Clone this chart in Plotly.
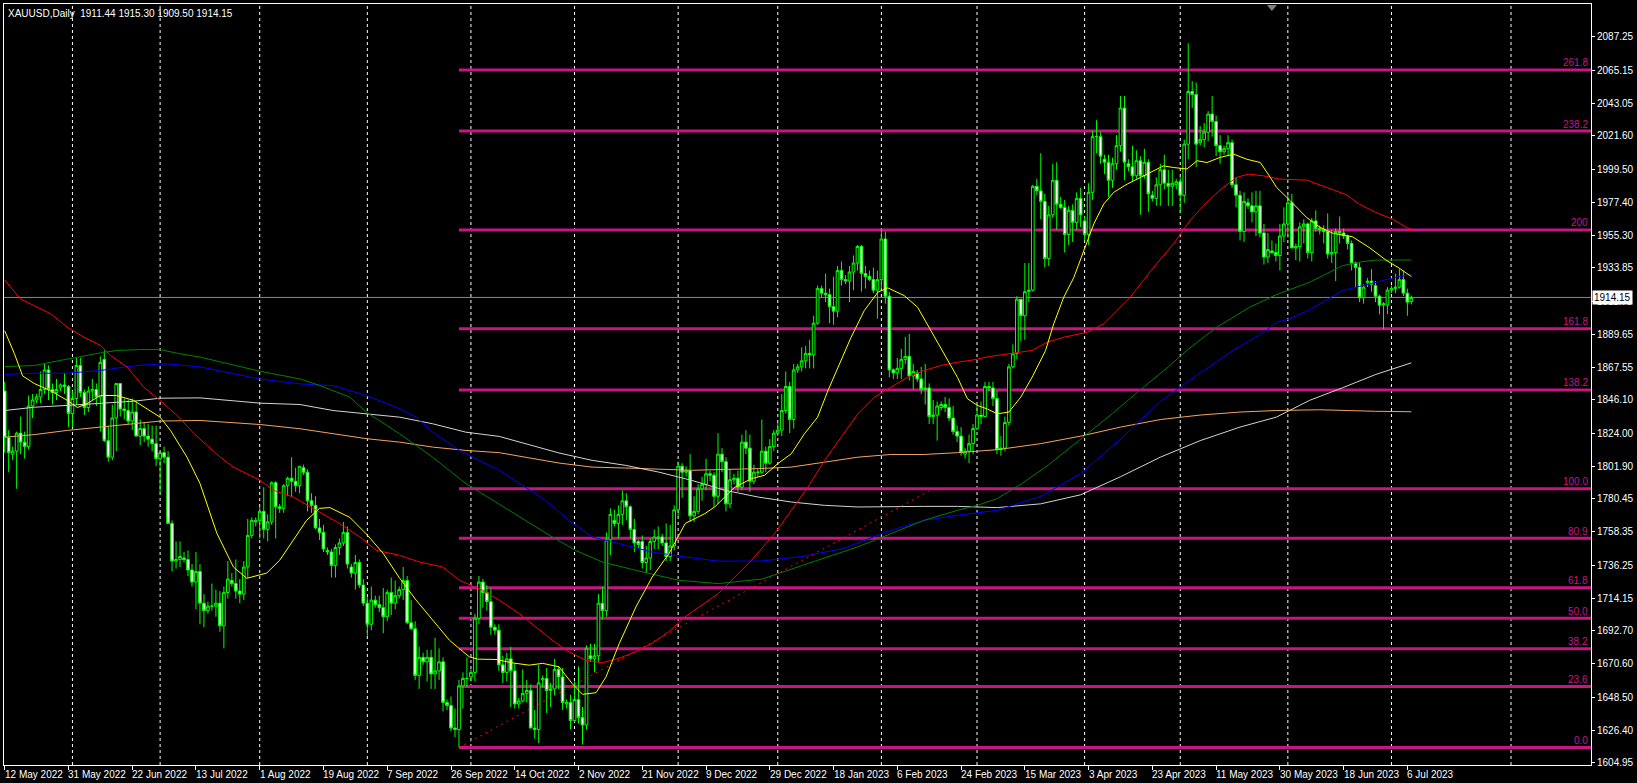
import plotly.graph_objects as go

# ---------------- DATA ----------------
opens = [1852,1821,1810,1812,1824,1818,1815,1842,1846,1848,1853,1866,1853,1851,1854,1856,1855,
1837,1847,1869,1851,1841,1852,1853,1848,1873,1819,1808,1834,1857,1840,1839,1832,1838,1822,1827,1822,1820,1817,
1807,1811,1808,1764,1739,1740,1741,1740,1733,1725,1732,1711,1706,1709,1709,1711,1696,1718,1726,1724,1719,1717,1735,1756,1765,
1766,1772,1760,1765,1791,1775,1774,1789,1794,1792,1789,1801,1798,1779,1776,1761,1758,1746,1745,1736,1748,1751,1758,1735,1731,1738,1723,
1711,1697,1713,1710,1708,1702,1718,1711,1716,1720,1726,1698,1694,1663,1675,1672,1675,1664,1666,1672,1645,1643,1628,1627,1656,1661,
1662,1665,1701,1725,1718,1712,1695,1693,1670,1665,1674,1666,1644,1646,1651,1653,1628,1627,1660,1661,1653,1654,1667,1662,1644,1645,
1633,1647,1635,1630,1676,1674,1676,1711,1706,1753,1766,1764,1770,1779,1775,1760,1752,1752,1738,1741,1752,1754,1755,1751,1742,1749,
1773,1802,1798,1799,1769,1772,1787,1790,1797,1796,1782,1810,1805,1777,1793,1794,1788,1818,1814,1792,1798,1798,1812,1804,1815,
1824,1826,1839,1855,1833,1866,1868,1872,1877,1876,1897,1920,1917,1916,1908,1905,1932,1926,1925,1931,1937,1948,1930,1928,1926,1919,
1926,1953,1915,1866,1864,1867,1873,1875,1862,1864,1860,1853,1854,1835,1836,1841,1843,1841,1834,1825,1822,1810,1812,1817,
1827,1836,1835,1855,1854,1847,1813,1814,1831,1868,1877,1913,1902,1918,1919,1988,1985,1978,1940,1969,1992,1976,1974,1956,1972,1964,1980,
1965,1956,1984,2021,2021,2006,2004,1992,2003,2015,2040,2003,2001,1995,2005,1995,2004,1982,1980,1989,1999,1990,1988,1989,
1991,1982,2016,2051,2049,2017,2019,2024,2036,2031,2015,2011,2013,2017,1989,1982,1958,1977,1975,1971,1975,1957,1941,1945,1944,1942,1955,
1963,1977,1947,1948,1961,1963,1944,1965,1960,1959,1958,1943,1944,1958,1957,1955,1950,1937,1934,1914,1924,1925,1922,1915,1909,1909,
1919,1920,1921,1926,1917,1911.44]
highs = [1858,1826,1815,1825,1835,1825,1849,1850,1850,1865,1870,1869,1857,1860,1857,1864,1856,
1852,1874,1874,1853,1855,1860,1857,1875,1879,1829,1843,1857,1857,1847,1846,1847,1845,1833,1831,1830,1829,1829,
1812,1815,1812,1766,1752,1752,1745,1746,1737,1745,1737,1717,1712,1724,1720,1719,1722,1739,1731,1740,1727,1739,1767,1768,1768,
1775,1788,1770,1792,1792,1777,1790,1795,1808,1801,1802,1803,1800,1784,1782,1767,1763,1748,1747,1750,1754,1765,1762,1737,1743,1740,1727,
1715,1722,1716,1716,1721,1720,1728,1726,1722,1735,1729,1713,1699,1682,1678,1680,1680,1688,1681,1675,1647,1649,1641,1660,1665,1675,
1667,1704,1729,1727,1723,1721,1697,1697,1676,1678,1682,1671,1648,1667,1660,1657,1640,1670,1663,1668,1658,1674,1669,1668,1647,1650,
1659,1669,1642,1683,1684,1684,1717,1722,1758,1774,1773,1776,1786,1784,1776,1767,1753,1756,1749,1754,1760,1762,1757,1764,1763,1776,
1805,1804,1802,1810,1782,1790,1795,1807,1799,1798,1824,1814,1808,1800,1797,1799,1823,1826,1823,1803,1800,1833,1815,1820,1826,
1831,1850,1865,1858,1870,1870,1881,1882,1886,1902,1922,1922,1930,1920,1928,1935,1938,1929,1935,1942,1949,1949,1935,1932,1934,1932,
1960,1958,1918,1867,1874,1880,1888,1890,1870,1866,1868,1870,1857,1846,1845,1845,1848,1847,1842,1829,1828,1814,1823,1830,
1843,1845,1858,1858,1858,1852,1822,1835,1870,1883,1915,1913,1937,1937,1989,1993,2010,1983,1975,2003,2004,1981,1979,1975,1976,1984,1987,
1968,1990,2025,2032,2024,2009,2009,2007,2022,2048,2048,2006,2015,2012,2008,2013,2006,1985,1994,2003,2009,1999,1999,1993,
1994,2019,2083,2058,2057,2028,2030,2038,2048,2035,2022,2015,2022,2019,1994,1985,1984,1980,1984,1985,1985,1963,1957,1952,1950,1963,
1974,1983,1983,1950,1964,1966,1964,1967,1972,1962,1962,1970,1959,1960,1968,1960,1956,1952,1938,1937,1923,1927,1933,1925,1916,1911,
1921,1922,1930,1933,1932,1920,1915.30]
lows = [1811,1798,1806,1787,1810,1807,1813,1834,1844,1844,1850,1846,1843,1846,1852,1850,1828,
1828,1843,1848,1836,1838,1846,1842,1825,1818,1805,1806,1812,1835,1833,1830,1826,1822,1816,1818,1815,1812,1802,
1784,1804,1764,1732,1734,1735,1738,1729,1722,1707,1697,1695,1704,1706,1702,1692,1681,1714,1722,1714,1711,1713,1728,1754,1762,
1754,1754,1752,1763,1754,1771,1771,1782,1782,1785,1784,1796,1772,1771,1760,1753,1745,1743,1728,1728,1743,1749,1734,1728,1720,1721,1709,
1689,1693,1708,1705,1691,1699,1703,1707,1714,1713,1697,1693,1660,1654,1670,1659,1654,1654,1660,1639,1640,1626,1622,1615,1641,1655,
1659,1659,1697,1708,1706,1690,1690,1666,1658,1659,1642,1641,1641,1645,1645,1628,1621,1618,1655,1638,1642,1650,1654,1640,1641,1627,
1632,1631,1617,1627,1672,1665,1672,1700,1702,1743,1762,1754,1763,1766,1754,1745,1747,1734,1731,1733,1747,1747,1749,1739,1739,1746,
1768,1781,1795,1765,1765,1770,1779,1786,1792,1775,1777,1798,1772,1774,1790,1785,1786,1810,1785,1790,1795,1797,1798,1803,1812,
1822,1822,1837,1824,1827,1864,1865,1867,1867,1867,1896,1914,1911,1897,1896,1901,1922,1923,1911,1919,1932,1918,1920,1925,1917,1900,
1920,1910,1861,1860,1860,1860,1870,1859,1853,1858,1850,1843,1830,1830,1819,1839,1838,1832,1823,1818,1809,1807,1804,1810,
1826,1830,1835,1852,1842,1810,1809,1812,1829,1867,1873,1885,1886,1911,1918,1982,1966,1934,1935,1967,1959,1973,1944,1949,1951,1959,1961,
1952,1949,1979,2010,2003,1996,1981,1987,1999,2011,1992,1998,1991,1993,1969,1993,1971,1978,1975,1975,1986,1975,1975,1986,
1970,1977,2006,2040,2001,2015,2014,2018,2021,2008,2003,2009,2008,1987,1974,1952,1951,1973,1964,1955,1954,1936,1937,1943,1938,1932,
1951,1954,1947,1939,1938,1950,1940,1938,1958,1956,1950,1940,1937,1925,1950,1953,1946,1932,1921,1911,1910,1921,1918,1911,1903,1893,
1903,1917,1917,1920,1915,1902,1909.50]
closes = [1821,1811,1812,1824,1818,1815,1842,1846,1848,1853,1866,1853,1851,1853,1856,1855,1837,
1847,1869,1851,1841,1852,1853,1848,1871,1819,1808,1834,1857,1840,1839,1832,1838,1822,1827,1822,1820,1817,1807,
1811,1808,1764,1739,1740,1742,1740,1733,1725,1732,1711,1706,1709,1709,1711,1696,1718,1727,1724,1719,1717,1735,1756,1766,1766,
1772,1760,1765,1791,1775,1774,1789,1794,1792,1789,1802,1798,1779,1776,1761,1758,1747,1745,1736,1748,1751,1758,1737,1731,1738,1723,1711,
1697,1713,1710,1708,1702,1718,1711,1716,1720,1726,1698,1694,1663,1675,1672,1675,1664,1666,1672,1645,1643,1628,1627,1656,1661,1661,
1665,1701,1725,1718,1712,1695,1693,1670,1665,1674,1666,1644,1646,1651,1653,1628,1627,1658,1661,1653,1654,1667,1662,1645,1645,1633,
1647,1635,1630,1681,1674,1676,1711,1706,1753,1770,1764,1770,1779,1775,1760,1751,1750,1738,1741,1752,1755,1755,1751,1742,1749,1773,
1802,1798,1799,1769,1772,1787,1790,1797,1796,1782,1810,1805,1777,1793,1794,1788,1818,1814,1792,1798,1798,1812,1804,1815,1824,
1826,1839,1855,1833,1866,1868,1872,1877,1876,1897,1920,1917,1916,1908,1905,1932,1926,1925,1931,1937,1948,1930,1928,1926,1919,1926,
1953,1915,1866,1864,1867,1873,1875,1862,1865,1860,1853,1854,1835,1836,1842,1843,1841,1834,1825,1822,1811,1812,1817,1827,
1836,1835,1855,1854,1847,1813,1814,1831,1868,1877,1913,1902,1918,1919,1988,1985,1978,1940,1969,1992,1976,1974,1956,1972,1964,1980,1969,
1956,1984,2021,2021,2008,2004,1992,2003,2015,2040,2004,2001,1995,2005,1995,2004,1983,1980,1989,1999,1990,1988,1990,1991,
1982,2016,2051,2049,2016,2019,2024,2036,2031,2015,2011,2013,2017,1989,1982,1958,1978,1975,1971,1975,1957,1941,1946,1944,1942,1955,
1963,1977,1947,1948,1961,1963,1944,1965,1960,1959,1958,1943,1944,1958,1957,1955,1950,1937,1934,1914,1921,1925,1923,1915,1909,1910,1919,
1920,1921,1926,1917,1911,1914.15]

date_labels = ["12 May 2022", "31 May 2022", "22 Jun 2022", "13 Jul 2022", "1 Aug 2022", "19 Aug 2022",
               "7 Sep 2022", "26 Sep 2022", "14 Oct 2022", "2 Nov 2022", "21 Nov 2022", "9 Dec 2022",
               "29 Dec 2022", "18 Jan 2023", "6 Feb 2023", "24 Feb 2023", "15 Mar 2023", "3 Apr 2023",
               "23 Apr 2023", "11 May 2023", "30 May 2023", "18 Jun 2023", "6 Jul 2023"]
date_label_bars = [0, 16, 32, 48, 64, 80, 96, 112, 128, 144, 160, 176, 192, 208, 224, 240, 256, 272,
                   288, 304, 320, 336, 352]
month_grid_bars = [17, 39, 64, 91, 117, 143, 169, 194, 220, 244, 271, 295, 322, 348, 378]

price_ticks = [2087.25, 2065.15, 2043.05, 2021.60, 1999.50, 1977.40, 1955.30, 1933.85, 1911.75,
               1889.65, 1867.55, 1846.10, 1824.00, 1801.90, 1780.45, 1758.35, 1736.25, 1714.15,
               1692.70, 1670.60, 1648.50, 1626.40, 1604.95]

fib_levels = [0.0, 23.6, 38.2, 50.0, 61.8, 80.9, 100.0, 138.2, 161.8, 200.0, 238.2, 261.8]
fib_texts = ["0.0", "23.6", "38.2", "50.0", "61.8", "80.9", "100.0", "138.2", "161.8", "200", "238.2", "261.8"]
fib_low_bar, fib_low = 114, 1615.0
fib_high_bar, fib_high = 233, 1787.0

last_price = 1914.15
title_text = "XAUUSD,Daily\u00a0\u00a01911.44 1915.30 1909.50 1914.15"

yellow_x = [0, 2.4, 4.5, 7.4, 11.6, 15.75, 18.25, 20.75, 24, 28, 32.4, 36.6, 39, 41.6, 45.75, 49, 53.25,
            57.4, 60.75, 65.75, 69, 72.4, 75.75, 79, 81.6, 86.6, 90.75, 95, 99, 103.25, 107.4, 111.6, 114,
            116.6, 118.7, 123.3, 127.4, 131.6, 135, 139.1, 142.4, 145, 148.4, 150.9, 154.2, 158.4, 162.5,
            166.7, 170.8, 175.7, 178.2, 183.2, 187.4, 190.7, 194, 197.4, 200.7, 204, 206.6, 209.9, 212.4,
            215.7, 219.1, 221.6, 225.7, 229.1, 232.4, 235.7, 239.1, 241.6, 244.1, 246.6, 249.1, 252, 255,
            258, 261.2, 263.25, 265.75, 268.3, 270.8, 273.3, 275.8, 278.3, 281.7, 286.7, 290.8, 293.3,
            296.7, 299.2, 301.7, 305, 308.4, 311.7, 315.1, 317.6, 319.2, 322.6, 326.7, 330.1, 333.4,
            336.7, 338.2, 342.4, 346.6, 349.9, 352.4, 353]
yellow_y = [1892, 1877, 1862, 1857, 1852, 1845.7, 1841, 1843.7, 1849, 1849, 1845.7, 1839, 1834.6, 1825.8,
            1808, 1790.6, 1757.4, 1735, 1727.5, 1731, 1739.5, 1752.8, 1766, 1774, 1774.5, 1768, 1757, 1744,
            1728, 1713, 1699.7, 1686.4, 1681, 1675.3, 1673.8, 1673.6, 1671.3, 1669.8, 1671, 1668.7, 1657.6,
            1650.4, 1651.5, 1662, 1684, 1708.5, 1728.4, 1744, 1764, 1770.5, 1775, 1788, 1793.7, 1796, 1803.7,
            1810.3, 1823.6, 1834.6, 1852.3, 1872.2, 1887.7, 1905.4, 1917.6, 1920.5, 1915.4, 1907.6, 1892,
            1876.7, 1861, 1846.8, 1842.4, 1840, 1836.8, 1838, 1848, 1862, 1878.9, 1896.6, 1914.2, 1927.5,
            1945.2, 1963, 1976.2, 1984, 1989.5, 1996.1, 2001.6, 2000.5, 1999.5, 2005, 2003.8, 2007.2, 2009.4,
            2006, 2003.8, 1993.9, 1987.2, 1978.4, 1967.3, 1960.7, 1956.7, 1955.2, 1954.5, 1947.4, 1939,
            1933.7, 1928.6, 1928]

red_x = [0, 4, 7.4, 11.6, 15.75, 19.9, 24.1, 26.6, 30.75, 34.9, 39, 43.25, 47.4, 49, 54.1, 57.4, 64.1, 67.4,
         72.4, 78.25, 84.1, 89.1, 93.25, 99.1, 104, 109.9, 114.1, 119.9, 124.1, 129.1, 133.3, 137.4, 141.6,
         145.8, 149.9, 154.1, 158.3, 162.4, 166.6, 170.7, 174.9, 179.1, 187.4, 193.2, 197.4, 201.6, 205.75,
         209.9, 214.1, 218.25, 222.4, 226.6, 230.75, 234.9, 239.1, 243.25, 247.4, 257.8, 261.6, 265.8, 271.6,
         275.8, 282.4, 288.3, 293.3, 297.4, 301.6, 305.75, 309.1, 312.1, 315.8, 320, 326.7, 330.8, 334.1,
         336.7, 339.9, 344.1, 348.3, 352, 353]
red_y = [1925.8, 1913, 1908.7, 1903.2, 1894.3, 1887.7, 1882.2, 1875.5, 1867.8, 1854.5, 1845.7, 1835.7, 1824,
         1820, 1808, 1801.4, 1792.6, 1786, 1781.5, 1772.7, 1763.8, 1755, 1746.1, 1742.8, 1738.4, 1735, 1726.2,
         1719.6, 1713, 1704.1, 1695.3, 1686.4, 1678.6, 1673.1, 1671.3, 1674.3, 1678.6, 1684.2, 1691.9, 1701.9,
         1709.6, 1717.4, 1739.5, 1757.2, 1772.7, 1788.2, 1805.9, 1821.3, 1836.8, 1847.9, 1854.5, 1861.2,
         1865.6, 1868.9, 1871.1, 1872.7, 1875, 1878.9, 1884.4, 1887.7, 1891, 1896.6, 1914.2, 1934.1, 1949.7,
         1965.1, 1977.3, 1987.2, 1993.9, 1996.1, 1995, 1992.8, 1992.1, 1988.4, 1985, 1982.4, 1976.2, 1970.6,
         1966.2, 1960.3, 1959.5]

green_x = [0, 7.4, 11.6, 15.75, 19.9, 24, 28.25, 34, 39, 43.25, 49, 64.1, 74.1, 79.1, 86.6, 90.75, 99.1,
           107.4, 115.75, 123.25, 129.1, 137.4, 143.25, 149.9, 158.25, 169.1, 179.1, 190, 204, 214.1, 222.4,
           230.75, 239.1, 244.1, 249.1, 255, 262, 270, 278, 286, 292, 296.6, 304.1, 312.4, 319.1, 327.4,
           335.7, 340.7, 344.1, 353]
green_y = [1868.2, 1868.9, 1871.1, 1873.3, 1875.5, 1877.3, 1878.9, 1879.5, 1879.5, 1877.1, 1874.5, 1865.1,
           1860, 1855.6, 1847.9, 1837.9, 1823.6, 1808, 1790.4, 1778, 1768.2, 1755, 1746.1, 1738.4, 1732.9,
           1726.2, 1724, 1727, 1739.5, 1748.4, 1757.2, 1766.1, 1772.7, 1776, 1780.5, 1790, 1803, 1820, 1837,
           1855, 1868, 1878.9, 1894.3, 1907.6, 1916, 1924.2, 1935.2, 1937.9, 1939, 1939]

blue_x = [0, 7.4, 15.75, 24, 30.75, 36.6, 40.75, 45, 49, 64.1, 74.1, 82.4, 90.75, 99.1, 103.25, 107.4,
          114.1, 124.1, 135.75, 141.6, 147.4, 154.1, 162.4, 170.75, 179.1, 190, 200, 210, 222.4, 230.75,
          239.1, 249.1, 260, 270, 280, 290, 300, 308.25, 316.6, 319.1, 322.4, 327.4, 335.7, 344.1, 348.3,
          352.4, 353]
blue_y = [1863, 1863.8, 1863.8, 1865.6, 1868.2, 1869.6, 1870, 1868.9, 1868, 1859.9, 1856.7, 1855.5, 1849,
          1840.2, 1834.6, 1824.7, 1812.5, 1799.3, 1779.3, 1766, 1755, 1750.6, 1745, 1741.7, 1738.9, 1739,
          1742, 1747, 1759.4, 1766, 1769.4, 1772.7, 1782, 1797, 1820, 1845, 1864, 1878.9, 1892.1, 1897.6,
          1899.9, 1905.8, 1918.7, 1924.2, 1927.1, 1929.3, 1929.5]

white_x = [0, 7.4, 15.75, 24, 32.4, 39, 49, 64.1, 74.1, 82.4, 90.75, 99.1, 107.4, 115.75, 124.1, 139.1,
           147.4, 155.75, 164.1, 172.4, 180.75, 189.1, 197.4, 205.75, 214.1, 222.4, 230.75, 239.1, 249.1,
           260, 270, 280, 290, 300, 310, 319.1, 327.4, 335.7, 344.1, 353]
white_y = [1839, 1841.2, 1842.4, 1843.9, 1845.2, 1847.2, 1847.4, 1843.9, 1843, 1839, 1836.8, 1834.6, 1830.2,
           1824.6, 1821.8, 1810.8, 1805.9, 1802.6, 1798.1, 1792.6, 1786, 1781.5, 1778.2, 1776, 1774.9,
           1775.3, 1775.3, 1775.3, 1774.5, 1777, 1783, 1795, 1808, 1819, 1828, 1834.6, 1845.7, 1854.1, 1863,
           1870.7]

orange_x = [0, 7.4, 15.75, 24, 32.4, 39, 49, 64.1, 74.1, 82.4, 90.75, 99.1, 107.4, 115.75, 124.1, 139.1,
            147.4, 155.75, 172.4, 189.1, 197.4, 205.75, 214.1, 222.4, 230.75, 239.1, 249.1, 260, 270, 280,
            290, 300, 310, 319.1, 330, 344, 353]
orange_y = [1821.3, 1823, 1825.8, 1828, 1830.2, 1832, 1832.4, 1829.7, 1826.9, 1823.6, 1820.3, 1818, 1814.7,
            1812.5, 1811, 1804.1, 1801.4, 1800.8, 1799.3, 1800.4, 1801.4, 1804.7, 1808, 1809.8, 1809.8, 1811,
            1813, 1817, 1822, 1828, 1833, 1836, 1838, 1839, 1839.5, 1838.5, 1838.2]

# ---------------- FIGURE ----------------
FONT = "Liberation Sans, Arial, sans-serif"
FIB_COLOR = "#C71585"
bars = list(range(len(opens)))

fig = go.Figure()

fig.add_trace(go.Candlestick(
    x=bars, open=opens, high=highs, low=lows, close=closes,
    increasing=dict(line=dict(color="#00FF00", width=1), fillcolor="#000000"),
    decreasing=dict(line=dict(color="#00FF00", width=1), fillcolor="#FFFFFF"),
    whiskerwidth=0, showlegend=False, hoverinfo="skip"))

for xs, ys, col in [(orange_x, orange_y, "#F4A460"), (white_x, white_y, "#D3D3D3"),
                    (blue_x, blue_y, "#0000FF"), (green_x, green_y, "#008000"),
                    (red_x, red_y, "#FF0000"), (yellow_x, yellow_y, "#FFFF00")]:
    fig.add_trace(go.Scatter(x=xs, y=ys, mode="lines", line=dict(color=col, width=1),
                             showlegend=False, hoverinfo="skip"))

# fib trend (dotted)
fig.add_trace(go.Scatter(x=[fib_low_bar, fib_high_bar], y=[fib_low, fib_high], mode="lines",
                         line=dict(color="#FF0000", width=1, dash="2px,4px"),
                         showlegend=False, hoverinfo="skip"))

shapes = []
for b in month_grid_bars:
    shapes.append(dict(type="line", xref="x", yref="paper", x0=b, x1=b, y0=0, y1=1,
                       line=dict(color="#FFFFFF", width=1, dash="3px,3px"), layer="below"))
for lv in fib_levels:
    p = fib_low + (fib_high - fib_low) * lv / 100.0
    shapes.append(dict(type="line", xref="x", yref="y", x0=fib_low_bar, x1=400, y0=p, y1=p,
                       line=dict(color=FIB_COLOR, width=3), layer="below"))
shapes.append(dict(type="line", xref="paper", yref="y", x0=0, x1=1, y0=last_price, y1=last_price,
                   line=dict(color="#778899", width=1), layer="below"))
# chart shift marker
shapes.append(dict(type="path", xref="x", yref="paper", xsizemode="pixel", ysizemode="pixel",
                   xanchor=318, yanchor=1, path="M -5 -1 L 5 -1 L 0 -7 Z",
                   fillcolor="#808080", line=dict(width=0)))

annotations = []
for lv, t in zip(fib_levels, fib_texts):
    p = fib_low + (fib_high - fib_low) * lv / 100.0
    annotations.append(dict(x=1, xref="paper", y=p, yref="y", text=t, showarrow=False,
                            xanchor="right", yanchor="middle", yshift=7, xshift=-2,
                            font=dict(family=FONT, size=10, color=FIB_COLOR), borderpad=0))
for b, t in zip(date_label_bars, date_labels):
    annotations.append(dict(x=b, xref="x", y=0, yref="paper", text=t, showarrow=False,
                            xanchor="left", yanchor="top", yshift=-3, xshift=-1,
                            font=dict(family=FONT, size=10, color="#FFFFFF"), borderpad=0))
annotations.append(dict(x=0, xref="paper", y=1, yref="paper", text=title_text, showarrow=False,
                        xanchor="left", yanchor="top", xshift=3, yshift=-3,
                        font=dict(family=FONT, size=10, color="#FFFFFF"), borderpad=0))
annotations.append(dict(x=1, xref="paper", y=last_price, yref="y", text="1914.15", showarrow=False,
                        xanchor="left", yanchor="middle", xshift=1,
                        font=dict(family=FONT, size=10, color="#000000"),
                        bgcolor="#FFFFFF", borderpad=1))

fig.update_layout(
    width=1637, height=783,
    margin=dict(l=3, r=41, t=3, b=18),
    paper_bgcolor="#000000", plot_bgcolor="#000000",
    boxgap=0.25, boxgroupgap=0.1,
    shapes=shapes, annotations=annotations,
    xaxis=dict(range=[-0.175, 398.075], showgrid=False, zeroline=False, showline=True,
               linecolor="#FFFFFF", linewidth=1, mirror=True, ticks="outside", ticklen=4,
               tickcolor="#FFFFFF", tickvals=date_label_bars, showticklabels=False,
               rangeslider=dict(visible=False), fixedrange=True),
    yaxis=dict(side="right", range=[1603.45, 2109.15], showgrid=False, zeroline=False,
               showline=True, linecolor="#FFFFFF", linewidth=1, mirror=True, ticks="outside",
               ticklen=3, tickcolor="#FFFFFF", tickvals=price_ticks,
               ticktext=["%.2f" % v for v in price_ticks],
               tickfont=dict(family=FONT, size=10, color="#FFFFFF"), fixedrange=True),
    showlegend=False,
)

fig.write_html("out.html", config={"displayModeBar": False},
               post_script="document.body.style.margin='0';document.body.style.padding='0';"
                           "document.body.style.background='#000';document.body.style.overflow='hidden';")
